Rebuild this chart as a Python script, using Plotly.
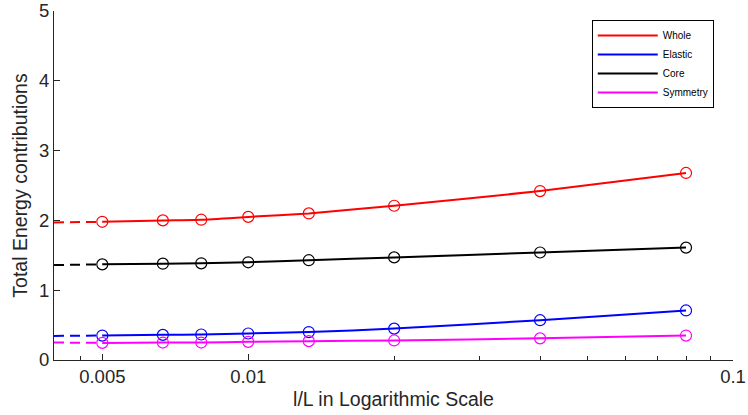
import plotly.graph_objects as go
import math

x_vals = [0.005, 1/150, 0.008, 0.01, 1/75, 0.02, 0.04, 0.08]
whole = [1.98, 2.00, 2.01, 2.05, 2.10, 2.21, 2.42, 2.68]
elastic = [0.35, 0.36, 0.365, 0.38, 0.40, 0.45, 0.57, 0.71]
core = [1.37, 1.38, 1.385, 1.40, 1.43, 1.47, 1.54, 1.61]
symmetry = [0.245, 0.25, 0.25, 0.26, 0.27, 0.28, 0.31, 0.35]
# extrapolated (l/L -> 0) values, drawn dashed from the axis edge
extrap = {"Whole": 1.97, "Elastic": 0.345, "Core": 1.36, "Symmetry": 0.25}

x_min, x_max = 0.003975, 0.1
series = [("Whole", whole, "#ff0000"), ("Elastic", elastic, "#0000ff"),
          ("Core", core, "#000000"), ("Symmetry", symmetry, "#ff00ff")]

major_ticks = [0.005, 0.01, 0.1]
major_text = ["0.005", "0.01", "0.1"]
minor_ticks = [0.0045, 0.02, 0.03, 0.04, 0.05, 0.06, 0.07, 0.08, 0.09]

axc = "#262626"
fig = go.Figure()
for name, ys, col in series:
    fig.add_trace(go.Scatter(x=[x_min, x_vals[0]], y=[extrap[name], ys[0]], mode="lines",
                             line=dict(color=col, width=2, dash="10px,6px"), showlegend=False,
                             hoverinfo="skip"))
for name, ys, col in series:
    fig.add_trace(go.Scatter(x=x_vals, y=ys, mode="lines", name=name,
                             line=dict(color=col, width=2, shape="spline", smoothing=0.5)))
for name, ys, col in series:
    fig.add_trace(go.Scatter(x=x_vals, y=ys, mode="markers", showlegend=False,
                             marker=dict(symbol="circle-open", size=11, color=col,
                                         line=dict(width=1.2, color=col))))

fig.update_layout(
    width=748, height=415,
    margin=dict(l=54, r=15, t=11, b=55),
    paper_bgcolor="white", plot_bgcolor="white",
    font=dict(family="Liberation Sans, Arial", size=18, color=axc),
    xaxis=dict(type="log", range=[math.log10(x_min), math.log10(x_max)],
               tickmode="array", tickvals=major_ticks, ticktext=major_text,
               ticks="inside", ticklen=6, tickcolor=axc, showgrid=False,
               minor=dict(tickmode="array", tickvals=minor_ticks, ticks="inside",
                          ticklen=4, tickcolor=axc, showgrid=False),
               showline=True, linecolor=axc, linewidth=1, zeroline=False,
               automargin=False, tickfont=dict(size=18.5),
               title=dict(text="l/L in Logarithmic Scale", standoff=6, font=dict(size=19.5))),
    yaxis=dict(range=[0, 5], tickvals=[0, 1, 2, 3, 4, 5], ticks="inside", ticklen=6,
               tickcolor=axc, showgrid=False, showline=True, linecolor=axc,
               linewidth=1, zeroline=False, automargin=False, tickfont=dict(size=18.5),
               title=dict(text="Total Energy contributions", standoff=6, font=dict(size=19.5))),
    legend=dict(x=0.792, y=0.974, xanchor="left", yanchor="top",
                bordercolor="black", borderwidth=1, bgcolor="white",
                font=dict(size=10, color="black"), tracegroupgap=0, itemwidth=60),
)
fig.write_html("out.html")
